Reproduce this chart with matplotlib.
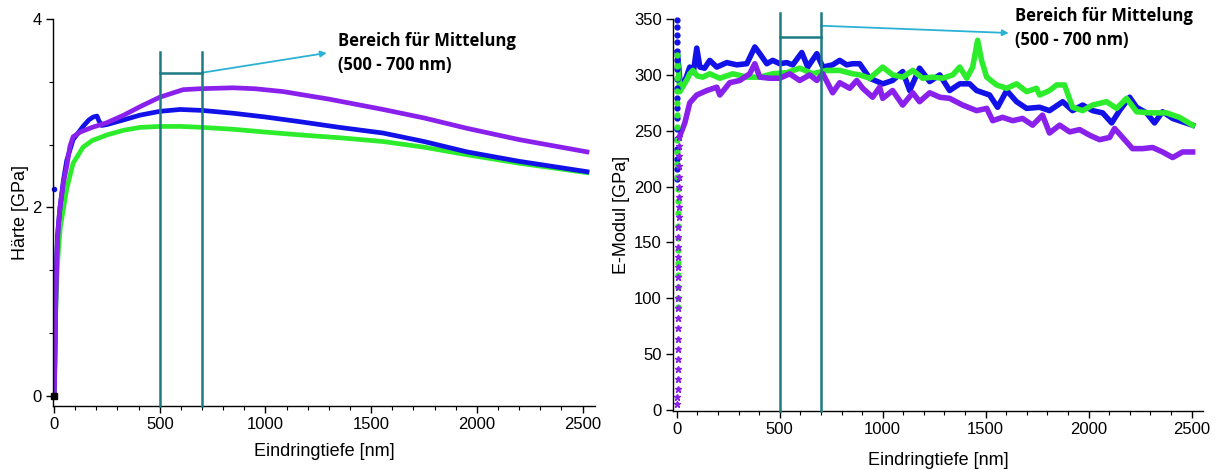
import matplotlib.pyplot as plt

plt.rcParams['font.family'] = ['Liberation Sans', 'DejaVu Sans']

# Haerte (left panel), depth in nm, hardness in GPa
h_purple_x = [0, 3, 5, 8, 14, 20, 28, 43, 61, 75, 90, 123, 180, 250, 330, 407, 500, 610, 690,
              847, 950, 1083, 1164, 1300, 1556, 1750, 1953, 2200, 2521]
h_purple_y = [0.0, 0.2, 0.49, 1.0, 1.55, 1.8, 2.0, 2.25, 2.45, 2.65, 2.75, 2.80, 2.85, 2.9, 2.98,
              3.07, 3.17, 3.25, 3.26, 3.27, 3.26, 3.23, 3.20, 3.15, 3.04, 2.95, 2.84, 2.72, 2.59]
h_blue_x = [0, 3, 6, 10, 16, 28, 45, 60, 90, 137, 165, 185, 203, 212, 225, 250, 330, 407, 500,
            596, 700, 847, 1000, 1164, 1350, 1556, 1750, 1953, 2200, 2521]
h_blue_y = [0.0, 0.3, 0.8, 1.3, 1.7, 2.0, 2.3, 2.5, 2.72, 2.86, 2.93, 2.96, 2.97, 2.92, 2.87,
            2.88, 2.93, 2.98, 3.02, 3.04, 3.03, 3.0, 2.96, 2.91, 2.85, 2.79, 2.70, 2.59, 2.49, 2.38]
h_green_x = [0, 4, 8, 14, 22, 30, 43, 60, 90, 137, 180, 250, 330, 407, 500, 600, 700, 847, 1000,
             1164, 1350, 1556, 1750, 1953, 2200, 2521]
h_green_y = [0.05, 0.4, 0.9, 1.3, 1.6, 1.8, 1.97, 2.2, 2.47, 2.64, 2.71, 2.77, 2.82, 2.85, 2.86,
             2.86, 2.85, 2.83, 2.80, 2.77, 2.74, 2.70, 2.64, 2.56, 2.47, 2.37]
h_blue_dot = (0, 2.2)
h_origin = (0, 0)

# E-Modul (right panel), depth in nm, modulus in GPa
e_blue_dots_x = [0, 0, 0, 0, 1, 1, 1, 1, 1, 2, 2, 2, 2, 2, 3, 3, 3, 3]
e_blue_dots_y = [349, 343, 336, 329, 321, 313, 305, 296, 288, 279, 270, 261, 252, 243, 234, 225,
                 216, 207]
e_green_dots_x = [0, 0, 1, 1, 1, 2, 2, 2, 3, 3, 3, 4, 4, 4, 5, 5, 5, 6, 6, 6, 7, 7]
e_green_dots_y = [318, 308, 297, 286, 275, 264, 253, 242, 231, 220, 209, 198, 187, 176, 165, 154,
                  143, 132, 121, 110, 100, 92]
e_purple_dots_x = [3, 3, 4, 4, 4, 5, 5, 5, 6, 6, 6, 6, 7, 7, 7, 8, 8, 8, 8, 9, 9, 9, 10, 10, 10,
                   11, 11, 12]
e_purple_dots_y = [5, 12, 19, 28, 37, 46, 55, 64, 73, 82, 91, 100, 110, 119, 128, 137, 146, 155,
                   164, 173, 182, 191, 200, 209, 218, 227, 236, 244]

e_blue_x = [3, 15, 30, 50, 63, 80, 97, 112, 135, 160, 194, 243, 291, 340, 379, 403, 437, 466, 500,
            534, 563, 607, 636, 680, 709, 757, 791, 825, 854, 888, 937, 1000, 1048, 1097, 1131, 1179,
            1228, 1277, 1325, 1374, 1422, 1456, 1519, 1558, 1602, 1650, 1699, 1762, 1810, 1874,
            1922, 1971, 2019, 2068, 2112, 2150, 2199, 2233, 2281, 2320, 2359, 2408, 2456, 2505]
e_blue_y = [320, 295, 290, 300, 307, 302, 324, 307, 306, 313, 307, 311, 309, 310, 325, 319, 310,
            313, 310, 311, 309, 320, 307, 319, 307, 309, 313, 309, 310, 310, 297, 292, 295, 303, 286,
            306, 294, 300, 286, 292, 292, 286, 282, 271, 286, 276, 270, 271, 268, 276, 268, 273,
            268, 266, 257, 268, 280, 271, 266, 257, 267, 261, 258, 255]
e_green_x = [5, 15, 30, 50, 63, 78, 100, 126, 160, 209, 272, 340, 403, 466, 534, 597, 660, 728,
             791, 854, 888, 937, 1000, 1048, 1097, 1146, 1194, 1243, 1291, 1340, 1374, 1408, 1437,
             1461, 1480, 1505, 1553, 1602, 1650, 1699, 1747, 1762, 1810, 1845, 1883, 1922, 1971,
             2019, 2087, 2136, 2184, 2233, 2296, 2378, 2441, 2505]
e_green_y = [310, 285, 290, 296, 301, 304, 299, 298, 301, 297, 301, 298, 298, 301, 302, 306, 301,
             304, 304, 301, 300, 297, 307, 300, 298, 304, 297, 298, 297, 300, 307, 297, 307, 331,
             313, 298, 291, 288, 292, 285, 288, 282, 286, 291, 291, 271, 268, 273, 276, 270, 279,
             267, 266, 266, 262, 255]
e_purple_x = [12, 20, 39, 63, 97, 146, 194, 209, 257, 306, 354, 379, 403, 451, 500, 548, 597, 645,
              680, 709, 757, 791, 840, 874, 903, 951, 985, 1000, 1048, 1097, 1146, 1179, 1228, 1277,
              1325, 1388, 1456, 1505, 1534, 1582, 1631, 1679, 1728, 1776, 1810, 1859, 1908, 1956,
              2005, 2053, 2102, 2126, 2165, 2213, 2262, 2311, 2359, 2408, 2456, 2505]
e_purple_y = [244, 248, 257, 275, 282, 286, 289, 282, 293, 295, 301, 310, 298, 297, 297, 301, 295,
              300, 295, 301, 284, 293, 288, 295, 288, 280, 289, 279, 286, 273, 284, 276, 284, 280,
              279, 273, 268, 270, 259, 262, 259, 261, 255, 264, 248, 255, 249, 251, 246, 242, 244,
              252, 244, 234, 234, 235, 231, 226, 231, 231]

range_lo, range_hi = 500, 700
note = "Bereich für Mittelung\n(500 - 700 nm)"

BLUE = "#1212e8"
GREEN = "#2cec2c"
PURPLE = "#8a20ec"
TEAL = "#1d7b83"
CYAN = "#2bb2d4"

fig = plt.figure(figsize=(12.19, 4.70), dpi=100)
ax1 = fig.add_axes([0.0435, 0.1362, 0.4446, 0.8234])
ax2 = fig.add_axes([0.552, 0.1255, 0.4348, 0.834])


def style(ax):
    for s in ["top", "right"]:
        ax.spines[s].set_visible(False)
    for s in ["left", "bottom"]:
        ax.spines[s].set_linewidth(1.0)
    ax.tick_params(which="major", direction="out", length=5, width=1, labelsize=12, pad=3)
    ax.tick_params(which="minor", direction="out", length=3, width=0.8)
    ax.set_xticks([0, 500, 1000, 1500, 2000, 2500])
    ax.set_xticks(range(0, 2501, 100), minor=True)


# left: hardness
ax1.plot(h_green_x, h_green_y, color=GREEN, lw=3.4, solid_joinstyle="round")
ax1.plot(h_blue_x, h_blue_y, color=BLUE, lw=3.4, solid_joinstyle="round")
ax1.plot(h_purple_x, h_purple_y, color=PURPLE, lw=3.4, solid_joinstyle="round")
ax1.plot(*h_blue_dot, "o", color=BLUE, ms=3, clip_on=False)
ax1.plot(*h_origin, "s", color="black", ms=4, clip_on=False, zorder=5)
style(ax1)
ax1.set_xlim(-5, 2559)
ax1.set_ylim(-0.106, 4.0)
ax1.set_yticks([0, 2, 4])
ax1.set_yticks([2 / 3, 4 / 3, 8 / 3, 10 / 3], minor=True)
ax1.set_xlabel("Eindringtiefe [nm]", fontsize=13)
ax1.set_ylabel("Härte [GPa]", fontsize=13)
ax1.xaxis.set_label_coords(0.5, -0.095)
ax1.yaxis.set_label_coords(-0.045, 0.5)
for xv in (range_lo, range_hi):
    ax1.plot([xv, xv], [-0.106, 3.65], color=TEAL, lw=1.8, zorder=4, clip_on=False)
ax1.plot([range_lo, range_hi], [3.43, 3.43], color=TEAL, lw=1.8, zorder=4)
ax1.annotate("", xy=(1290, 3.64), xytext=(range_hi, 3.43),
             arrowprops=dict(arrowstyle="-|>", color=CYAN, lw=1.3, mutation_scale=9,
                             shrinkA=0, shrinkB=0))
ax1.text(1343, 3.86, note, fontsize=12, fontweight="bold", family="Open Sans",
         va="top", ha="left", linespacing=1.45)

# right: modulus
ax2.plot(e_blue_x, e_blue_y, color=BLUE, lw=4.0, solid_joinstyle="round")
ax2.plot(e_green_x, e_green_y, color=GREEN, lw=4.0, solid_joinstyle="round")
ax2.plot(e_purple_x, e_purple_y, color=PURPLE, lw=4.0, solid_joinstyle="round")
ax2.plot(e_blue_dots_x, e_blue_dots_y, "o", color=BLUE, ms=3.5, clip_on=False)
ax2.plot(e_green_dots_x, e_green_dots_y, "o", color=GREEN, ms=3.5)
ax2.plot(e_purple_dots_x, e_purple_dots_y, "*", color=PURPLE, ms=5)
style(ax2)
ax2.set_xlim(-19, 2555)
ax2.set_ylim(-0.9, 350)
ax2.set_yticks(range(0, 351, 50))
ax2.set_yticks([v for v in range(0, 351) if v % 50 and (v * 3) % 50 == 0], minor=True)
ax2.set_xlabel("Eindringtiefe [nm]", fontsize=13)
ax2.set_ylabel("E-Modul [GPa]", fontsize=13)
ax2.xaxis.set_label_coords(0.5, -0.105)
ax2.yaxis.set_label_coords(-0.08, 0.5)
for xv in (range_lo, range_hi):
    ax2.plot([xv, xv], [-0.9, 355], color=TEAL, lw=1.8, zorder=4, clip_on=False)
ax2.plot([range_lo, range_hi], [334, 334], color=TEAL, lw=1.8, zorder=4)
ax2.annotate("", xy=(1612, 337.5), xytext=(range_hi, 344),
             arrowprops=dict(arrowstyle="-|>", color=CYAN, lw=1.3, mutation_scale=9,
                             shrinkA=0, shrinkB=0))
ax2.text(1641, 361, note, fontsize=12, fontweight="bold", family="Open Sans",
         va="top", ha="left", linespacing=1.45)

fig.savefig("out.png", dpi=100)
